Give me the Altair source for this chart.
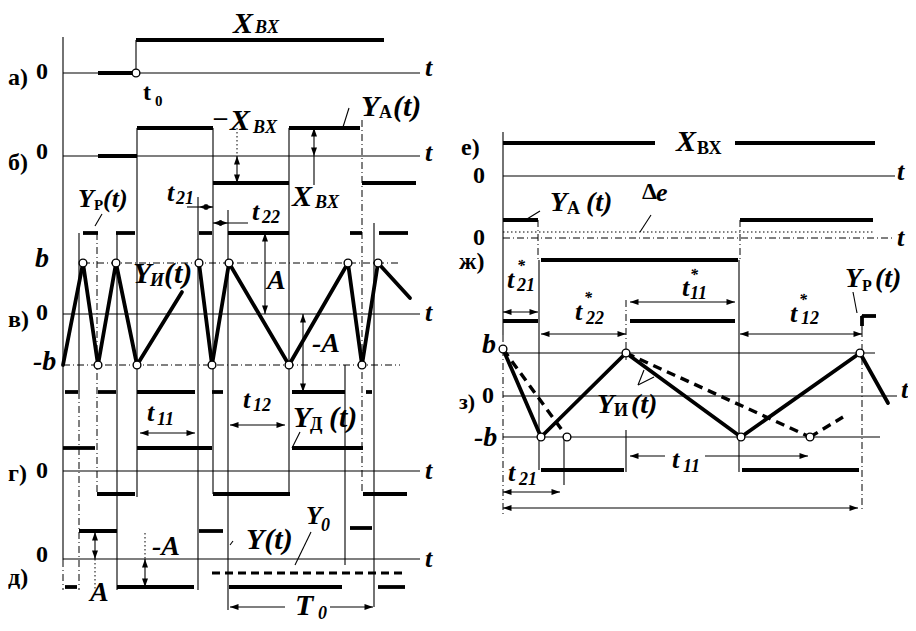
import altair as alt
import pandas as pd

# ---------------- coordinate frame (diagram units = picture pixels) ----------------
XS = alt.Scale(domain=[8, 908], nice=False, zero=False)
YS = alt.Scale(domain=[8, 623], nice=False, zero=False, reverse=True)
FONT = "Liberation Serif, Times New Roman, serif"

# ---------------- LEFT DIAGRAM (а, б, в, г, д) ----------------
left_axes = [  # thin solid lines (x1, y1, x2, y2)
    (63, 37, 63, 560),
    (63, 73, 420, 73), (63, 156, 420, 156), (63, 314, 420, 314),
    (63, 471, 420, 471), (63, 559, 420, 559),
    (136, 40, 136, 73),
    (137, 128, 137, 497), (213, 128, 213, 494), (289, 128, 289, 494),
    (117, 233, 117, 590), (228, 210, 228, 610), (198, 197, 198, 590),
    (345, 365, 345, 565), (374, 223, 374, 607), (79, 233, 79, 392),
    (314, 156, 314, 185),
]
left_leaders = [
    (343, 127, 349, 108), (95, 226, 102, 214), (292, 448, 300, 432),
    (311, 532, 295, 565), (230, 545, 233, 541),
]
left_arrow_shafts = [
    (187, 207, 213, 207), (213, 223, 248, 223), (265, 233, 265, 314),
    (303, 314, 303, 392), (140, 433, 195, 433), (230, 425, 285, 425),
    (237, 156, 237, 183), (314, 128, 314, 156), (95, 532, 95, 559),
    (145, 559, 145, 587), (230, 607, 285, 607), (330, 607, 373, 607),
]
left_dashdot = [
    (83, 263, 400, 263), (63, 365, 400, 365), (97, 233, 97, 494),
    (79, 392, 79, 590), (362, 120, 362, 494), (63, 560, 63, 590),
]
left_dotted = [(237, 128, 237, 156), (95, 559, 95, 590), (145, 533, 145, 559)]

# thick step signals (x1, x2, y)
sig_a = [(98, 136, 73), (136, 384, 40)]
sig_b_YA = [(98, 137, 156), (137, 213, 128), (213, 289, 183), (289, 360, 128), (362, 416, 183)]
sig_v_YP = [(65, 78, 392), (98, 116, 392), (137, 195, 392), (212, 223, 392), (292, 345, 392), (366, 372, 392),
            (83, 98, 233), (116, 135, 233), (199, 212, 233), (228, 289, 233), (350, 362, 233), (379, 408, 233)]
sig_g_YD = [(63, 95, 448), (137, 212, 448), (292, 363, 448), (97, 135, 494), (213, 290, 494), (363, 407, 494)]
sig_d_Y = [(65, 77, 587), (79, 117, 531), (117, 194, 587), (199, 223, 531), (229, 342, 587),
           (350, 372, 528), (378, 405, 587)]
sig_d_Y0 = [(212, 405, 573)]

# integrator output Y_И(t) (polylines)
v_YI_1 = [(63, 365), (83, 263), (98, 365), (116, 263), (137, 365), (182, 292)]
v_YI_2 = [(199, 263), (212, 365), (229, 263), (289, 365), (348, 263), (362, 365), (378, 263), (410, 298)]
left_circles = [(136, 73), (83, 263), (98, 365), (116, 263), (137, 365), (199, 263), (212, 365),
                (229, 263), (289, 365), (348, 263), (362, 365), (378, 263)]
left_heads = [  # (x_tip, y_tip, angle)
    (199, 207, 180), (213, 207, 0), (213, 223, 180), (228, 223, 0),
    (265, 233, 270), (265, 314, 90), (303, 314, 270), (303, 392, 90),
    (140, 433, 180), (195, 433, 0), (230, 425, 180), (285, 425, 0),
    (237, 156, 270), (237, 183, 90), (314, 128, 270), (314, 156, 90),
    (95, 532, 270), (95, 559, 90), (145, 559, 270), (145, 587, 90),
    (230, 607, 180), (373, 607, 0),
]

# ---------------- RIGHT DIAGRAM (е, ж, з) ----------------
right_axes = [
    (503, 132, 503, 335), (503, 176, 895, 176), (503, 396, 897, 396),
    (503, 353, 875, 353), (503, 437, 880, 437),
    (539, 260, 539, 470), (564, 437, 564, 485), (626, 430, 626, 472),
    (739, 260, 739, 472), (862, 315, 862, 330),
]
right_leaders = [(527, 219, 540, 211), (640, 232, 651, 215), (853, 292, 857, 313),
                 (638, 385, 644, 370), (638, 385, 654, 377)]
right_arrow_shafts = [
    (503, 312, 538, 312), (541, 334, 626, 334), (630, 302, 735, 302), (740, 334, 862, 334),
    (630, 456, 665, 456), (705, 456, 808, 456), (503, 492, 560, 492), (503, 508, 858, 508),
]
right_dashdot = [(503, 335, 503, 515), (503, 238, 895, 238), (626, 300, 626, 360),
                 (862, 330, 862, 510), (538, 220, 538, 260), (740, 220, 740, 260)]
right_dotted = [(503, 232, 873, 232)]

sig_e_X = [(503, 655, 143), (735, 875, 143)]
sig_zh_YA = [(503, 538, 220), (541, 738, 260), (740, 873, 220)]
sig_z_YP = [(503, 538, 321), (630, 735, 321), (541, 624, 470), (742, 859, 470), (862, 876, 316)]
sig_z_YP_edge = [(862, 316, 862, 326)]

z_YI_solid = [(503, 349), (541, 437), (626, 353), (741, 437), (860, 353), (888, 403)]
z_YI_dash_1 = [(503, 349), (567, 437)]
z_YI_dash_2 = [(626, 353), (810, 437), (843, 417)]
right_circles = [(503, 349), (541, 437), (567, 437), (626, 353), (741, 437), (810, 437), (860, 353)]
right_heads = [
    (503, 312, 180), (538, 312, 0), (541, 334, 180), (626, 334, 0),
    (630, 302, 180), (735, 302, 0), (740, 334, 180), (862, 334, 0),
    (630, 456, 180), (808, 456, 0), (503, 492, 180), (560, 492, 0),
    (503, 508, 180), (858, 508, 0),
]

# ---------------- TEXT (text, x_left, y_middle, size) ----------------
text_italic = [
    ("X", 233, 24, 30), ("BX", 255, 28, 18),
    ("t", 425, 68, 26), ("t", 425, 153, 26), ("t", 425, 313, 26), ("t", 425, 471, 26), ("t", 425, 559, 26),
    ("X", 230, 121, 30), ("BX", 253, 128, 18),
    ("Y", 361, 107, 30), ("(t)", 393, 107, 30),
    ("X", 292, 197, 30), ("BX", 315, 203, 18),
    ("t", 167, 193, 26), ("21", 176, 199, 18),
    ("t", 252, 212, 26), ("22", 262, 218, 18),
    ("Y", 78, 199, 26), ("(t)", 103, 199, 26),
    ("b", 35, 259, 28), ("-b", 33, 362, 28),
    ("Y", 133, 274, 30), ("И", 150, 281, 18), ("(t)", 164, 274, 30),
    ("A", 267, 281, 28), ("-A", 312, 344, 28),
    ("t", 147, 413, 26), ("11", 157, 420, 18),
    ("t", 243, 400, 26), ("12", 253, 406, 18),
    ("Y", 293, 418, 30), ("(t)", 329, 418, 30),
    ("A", 90, 593, 28), ("-A", 152, 547, 28),
    ("Y(t)", 246, 540, 30),
    ("Y", 306, 516, 26), ("0", 321, 526, 18),
    ("T", 295, 606, 30), ("0", 318, 614, 18),
    # right
    ("X", 676, 142, 30),
    ("t", 897, 172, 26), ("t", 897, 238, 26), ("t", 901, 390, 26),
    ("Y", 550, 203, 28), ("(t)", 586, 203, 28),
    ("e", 656, 193, 26),
    ("t", 507, 280, 26), ("21", 517, 286, 18), ("*", 517, 266, 16),
    ("t", 575, 312, 26), ("22", 586, 319, 18), ("*", 584, 298, 16),
    ("t", 682, 288, 26), ("11", 690, 294, 18), ("*", 690, 275, 16),
    ("t", 790, 314, 26), ("12", 801, 319, 18), ("*", 799, 300, 16),
    ("Y", 845, 279, 28), ("(t)", 875, 279, 28),
    ("b", 482, 345, 28), ("-b", 474, 438, 28),
    ("Y", 597, 405, 28), ("(t)", 631, 405, 28),
    ("t", 672, 460, 26), ("11", 683, 467, 18),
    ("t", 508, 473, 26), ("21", 519, 480, 18),
]
text_upright = [
    ("а)", 8, 78, 24), ("0", 36, 72, 24), ("б)", 8, 163, 24), ("0", 36, 152, 24),
    ("в)", 8, 320, 24), ("0", 36, 313, 24), ("г)", 8, 474, 24), ("0", 36, 471, 24),
    ("д)", 8, 578, 24), ("0", 36, 555, 24),
    ("t", 143, 93, 24), ("0", 155, 101, 15),
    ("–", 214, 117, 26),
    ("А", 379, 113, 18), ("Р", 94, 205, 15), ("Д", 310, 425, 18),
    ("е)", 461, 148, 24), ("0", 473, 176, 24), ("ж)", 459, 262, 24), ("0", 473, 238, 24),
    ("з)", 459, 402, 22), ("0", 482, 396, 24),
    ("ВХ", 697, 149, 18), ("А", 567, 209, 18), ("Δ", 642, 192, 24),
    ("Р", 862, 286, 16), ("И", 614, 411, 18),
]


# ---------------- helpers ----------------
def hseg(rows):
    return [(a, y, b, y) for a, b, y in rows]


def poly(points):
    return [(points[i][0], points[i][1], points[i + 1][0], points[i + 1][1]) for i in range(len(points) - 1)]


def seg_layer(rows, width, dash=None, cap="butt"):
    df = pd.DataFrame(rows, columns=["x", "y", "x2", "y2"])
    kw = dict(color="black", strokeWidth=width, strokeCap=cap)
    if dash:
        kw["strokeDash"] = dash
    return alt.Chart(df).mark_rule(**kw).encode(
        x=alt.X("x:Q", scale=XS, axis=None),
        y=alt.Y("y:Q", scale=YS, axis=None),
        x2="x2:Q", y2="y2:Q",
    )


def circle_layer(rows):
    df = pd.DataFrame(rows, columns=["x", "y"])
    return alt.Chart(df).mark_point(shape="circle", filled=True, fill="white", stroke="black",
                                     strokeWidth=1.4, size=60, opacity=1).encode(
        x=alt.X("x:Q", scale=XS, axis=None), y=alt.Y("y:Q", scale=YS, axis=None))


def head_layer(rows):
    df = pd.DataFrame(rows, columns=["x", "y", "a"])
    return alt.Chart(df).mark_point(shape="M0,0 L-2,-0.7 L-2,0.7 Z", filled=True, color="black",
                                     size=72, opacity=1).encode(
        x=alt.X("x:Q", scale=XS, axis=None), y=alt.Y("y:Q", scale=YS, axis=None),
        angle=alt.Angle("a:Q", scale=None))


def text_layer(rows, italic):
    df = pd.DataFrame(rows, columns=["t", "x", "y", "s"])
    return alt.Chart(df).mark_text(align="left", baseline="middle", font=FONT,
                                    fontWeight="bold", fontStyle="italic" if italic else "normal",
                                    color="black").encode(
        x=alt.X("x:Q", scale=XS, axis=None), y=alt.Y("y:Q", scale=YS, axis=None),
        text="t:N", size=alt.Size("s:Q", scale=None, legend=None))


thin = left_axes + left_leaders + left_arrow_shafts + right_axes + right_leaders + right_arrow_shafts
thick = (hseg(sig_a + sig_b_YA + sig_v_YP + sig_g_YD + sig_d_Y + sig_e_X + sig_zh_YA + sig_z_YP)
         + sig_z_YP_edge)
thick_poly = poly(v_YI_1) + poly(v_YI_2) + poly(z_YI_solid)
dash_poly = poly(z_YI_dash_1) + poly(z_YI_dash_2)

layers = [
    seg_layer(thin, 1.1),
    seg_layer(left_dashdot + right_dashdot, 1.0, dash=[7, 3, 1, 3]),
    seg_layer(left_dotted + right_dotted, 1.0, dash=[1.5, 2.5]),
    seg_layer(thick, 3.8),
    seg_layer(hseg(sig_d_Y0), 3.2, dash=[8, 5]),
    seg_layer(thick_poly, 3.8, cap="round"),
    seg_layer(dash_poly, 3.4, dash=[9, 6]),
    head_layer(left_heads + right_heads),
    circle_layer(left_circles + right_circles),
    text_layer(text_italic, True),
    text_layer(text_upright, False),
]

chart = alt.layer(*layers).properties(
    width=900, height=615, padding=0, autosize=alt.AutoSizeParams(type="none"), background="white"
).configure_view(stroke=None)

chart.save("out.html", embed_options={"renderer": "svg", "actions": False})
